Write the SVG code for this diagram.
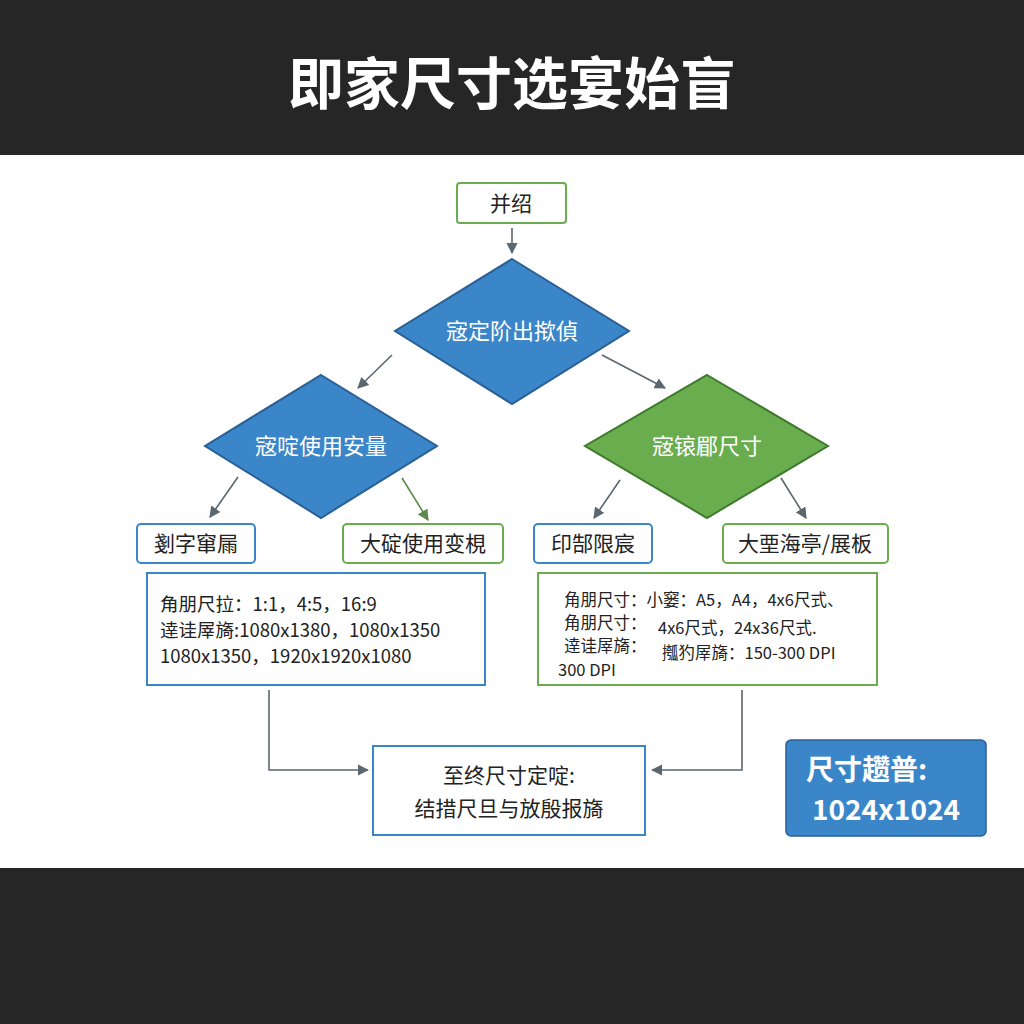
<svg xmlns="http://www.w3.org/2000/svg" width="1024" height="1024" viewBox="0 0 1024 1024">
<defs>
<marker id="ah" viewBox="0 0 10 10" refX="9" refY="5" markerWidth="7" markerHeight="7" orient="auto"><path d="M0,0 L10,5 L0,10 z" fill="#5a6670"/></marker>
<marker id="ahg" viewBox="0 0 10 10" refX="9" refY="5" markerWidth="7" markerHeight="7" orient="auto"><path d="M0,0 L10,5 L0,10 z" fill="#5c8a4a"/></marker>
<style>
text{font-family:"Noto Sans CJK SC","Liberation Sans",sans-serif;}
.bx{fill:#fff;stroke-width:2;}
.b{stroke:#3a86c8;}
.g{stroke:#6aad4e;}
.lb{font-size:21px;fill:#222;text-anchor:middle;}
.dt{font-size:22px;fill:#fff;text-anchor:middle;}
.it{font-size:18.5px;fill:#222;}
.it2{font-size:16.5px;fill:#222;}
.c{fill:none;stroke:#5a6670;stroke-width:1.6;}
.cg{fill:none;stroke:#5c8a4a;stroke-width:1.6;}
</style>
</defs>
<rect width="1024" height="1024" fill="#fff"/>
<rect width="1024" height="155" fill="#262626"/>
<rect y="868" width="1024" height="156" fill="#262626"/>
<text x="512" y="104" font-size="56" font-weight="bold" fill="#fff" text-anchor="middle">即家尺寸选宴始盲</text>
<g id="connectors">
<line class="c" x1="512" y1="228" x2="512" y2="253" marker-end="url(#ah)"/>
<line class="c" x1="392" y1="355" x2="358" y2="388" marker-end="url(#ah)"/>
<line class="c" x1="602" y1="355" x2="665" y2="388" marker-end="url(#ah)"/>
<line class="c" x1="238" y1="477" x2="210" y2="517" marker-end="url(#ah)"/>
<line class="cg" x1="402" y1="478" x2="428" y2="520" marker-end="url(#ahg)"/>
<line class="c" x1="620" y1="480" x2="594" y2="518" marker-end="url(#ah)"/>
<line class="c" x1="781" y1="478" x2="806" y2="518" marker-end="url(#ah)"/>
<polyline class="c" points="269,690 269,770 368,770" marker-end="url(#ah)"/>
<polyline class="c" points="742,690 742,770 652,770" marker-end="url(#ah)"/>
</g>
<g id="start"><rect class="bx g" x="457" y="183" width="109" height="40" rx="3"/><text class="lb" x="511" y="211">并绍</text></g>
<g id="d1"><polygon points="512,259 629,331 512,404 395,331" fill="#3a86c8" stroke="#2a5f95" stroke-width="2"/><text class="dt" x="512" y="339">宼定阶出揿偵</text></g>
<g id="d2"><polygon points="321,375 437,446 321,518 205,446" fill="#3a86c8" stroke="#2a5f95" stroke-width="2"/><text class="dt" x="321" y="454">宼啶使用安量</text></g>
<g id="d3"><polygon points="707,375 828,446 707,518 585,446" fill="#6aad4e" stroke="#3d7a2b" stroke-width="2"/><text class="dt" x="707" y="454">宼锿郿尺寸</text></g>
<g id="n1"><rect class="bx b" x="137" y="524" width="118" height="39" rx="4"/><text class="lb" x="196" y="551">剗字窜屚</text></g>
<g id="n2"><rect class="bx g" x="343" y="524" width="160" height="39" rx="4"/><text class="lb" x="423" y="551">大碇使用变梘</text></g>
<g id="n3"><rect class="bx b" x="534" y="524" width="118" height="39" rx="4"/><text class="lb" x="593" y="551">印郜限宸</text></g>
<g id="n4"><rect class="bx g" x="723" y="524" width="165" height="39" rx="4"/><text class="lb" x="805" y="551">大垔海亭/展板</text></g>
<g id="info1"><rect class="bx b" x="147" y="573" width="338" height="112"/>
<text class="it" x="160" y="611">角朋尺拉：1:1，4:5，16:9</text>
<text class="it" x="160" y="637">逹诖屖旖:1080x1380，1080x1350</text>
<text class="it" x="160" y="663">1080x1350，1920x1920x1080</text></g>
<g id="info2"><rect class="bx g" x="538" y="573" width="339" height="112"/>
<text class="it2" x="564" y="606">角朋尺寸：小窭：A5，A4，4x6尺式、</text>
<text class="it2" x="564" y="629">角朋尺寸：</text><text class="it2" x="658" y="634">4x6尺式，24x36尺式.</text>
<text class="it2" x="564" y="652">逹诖屖旖：</text><text class="it2" x="662" y="659">摦犳屖旖：150-300 DPI</text>
<text class="it2" x="558" y="676">300 DPI</text></g>
<g id="final"><rect class="bx b" x="373" y="746" width="272" height="89"/>
<text class="lb" x="509" y="783">至终尺寸定啶:</text>
<text class="lb" x="509" y="816">结措尺旦与放殷报旖</text></g>
<g id="badge"><rect x="786" y="740" width="200" height="96" rx="5" fill="#3a86c8" stroke="#2a5f95" stroke-width="1.5"/>
<text x="806" y="780" font-size="28" font-weight="bold" fill="#fff">尺寸趱普:</text>
<text x="886" y="820" font-size="28" font-weight="bold" fill="#fff" text-anchor="middle">1024x1024</text></g>
</svg>
